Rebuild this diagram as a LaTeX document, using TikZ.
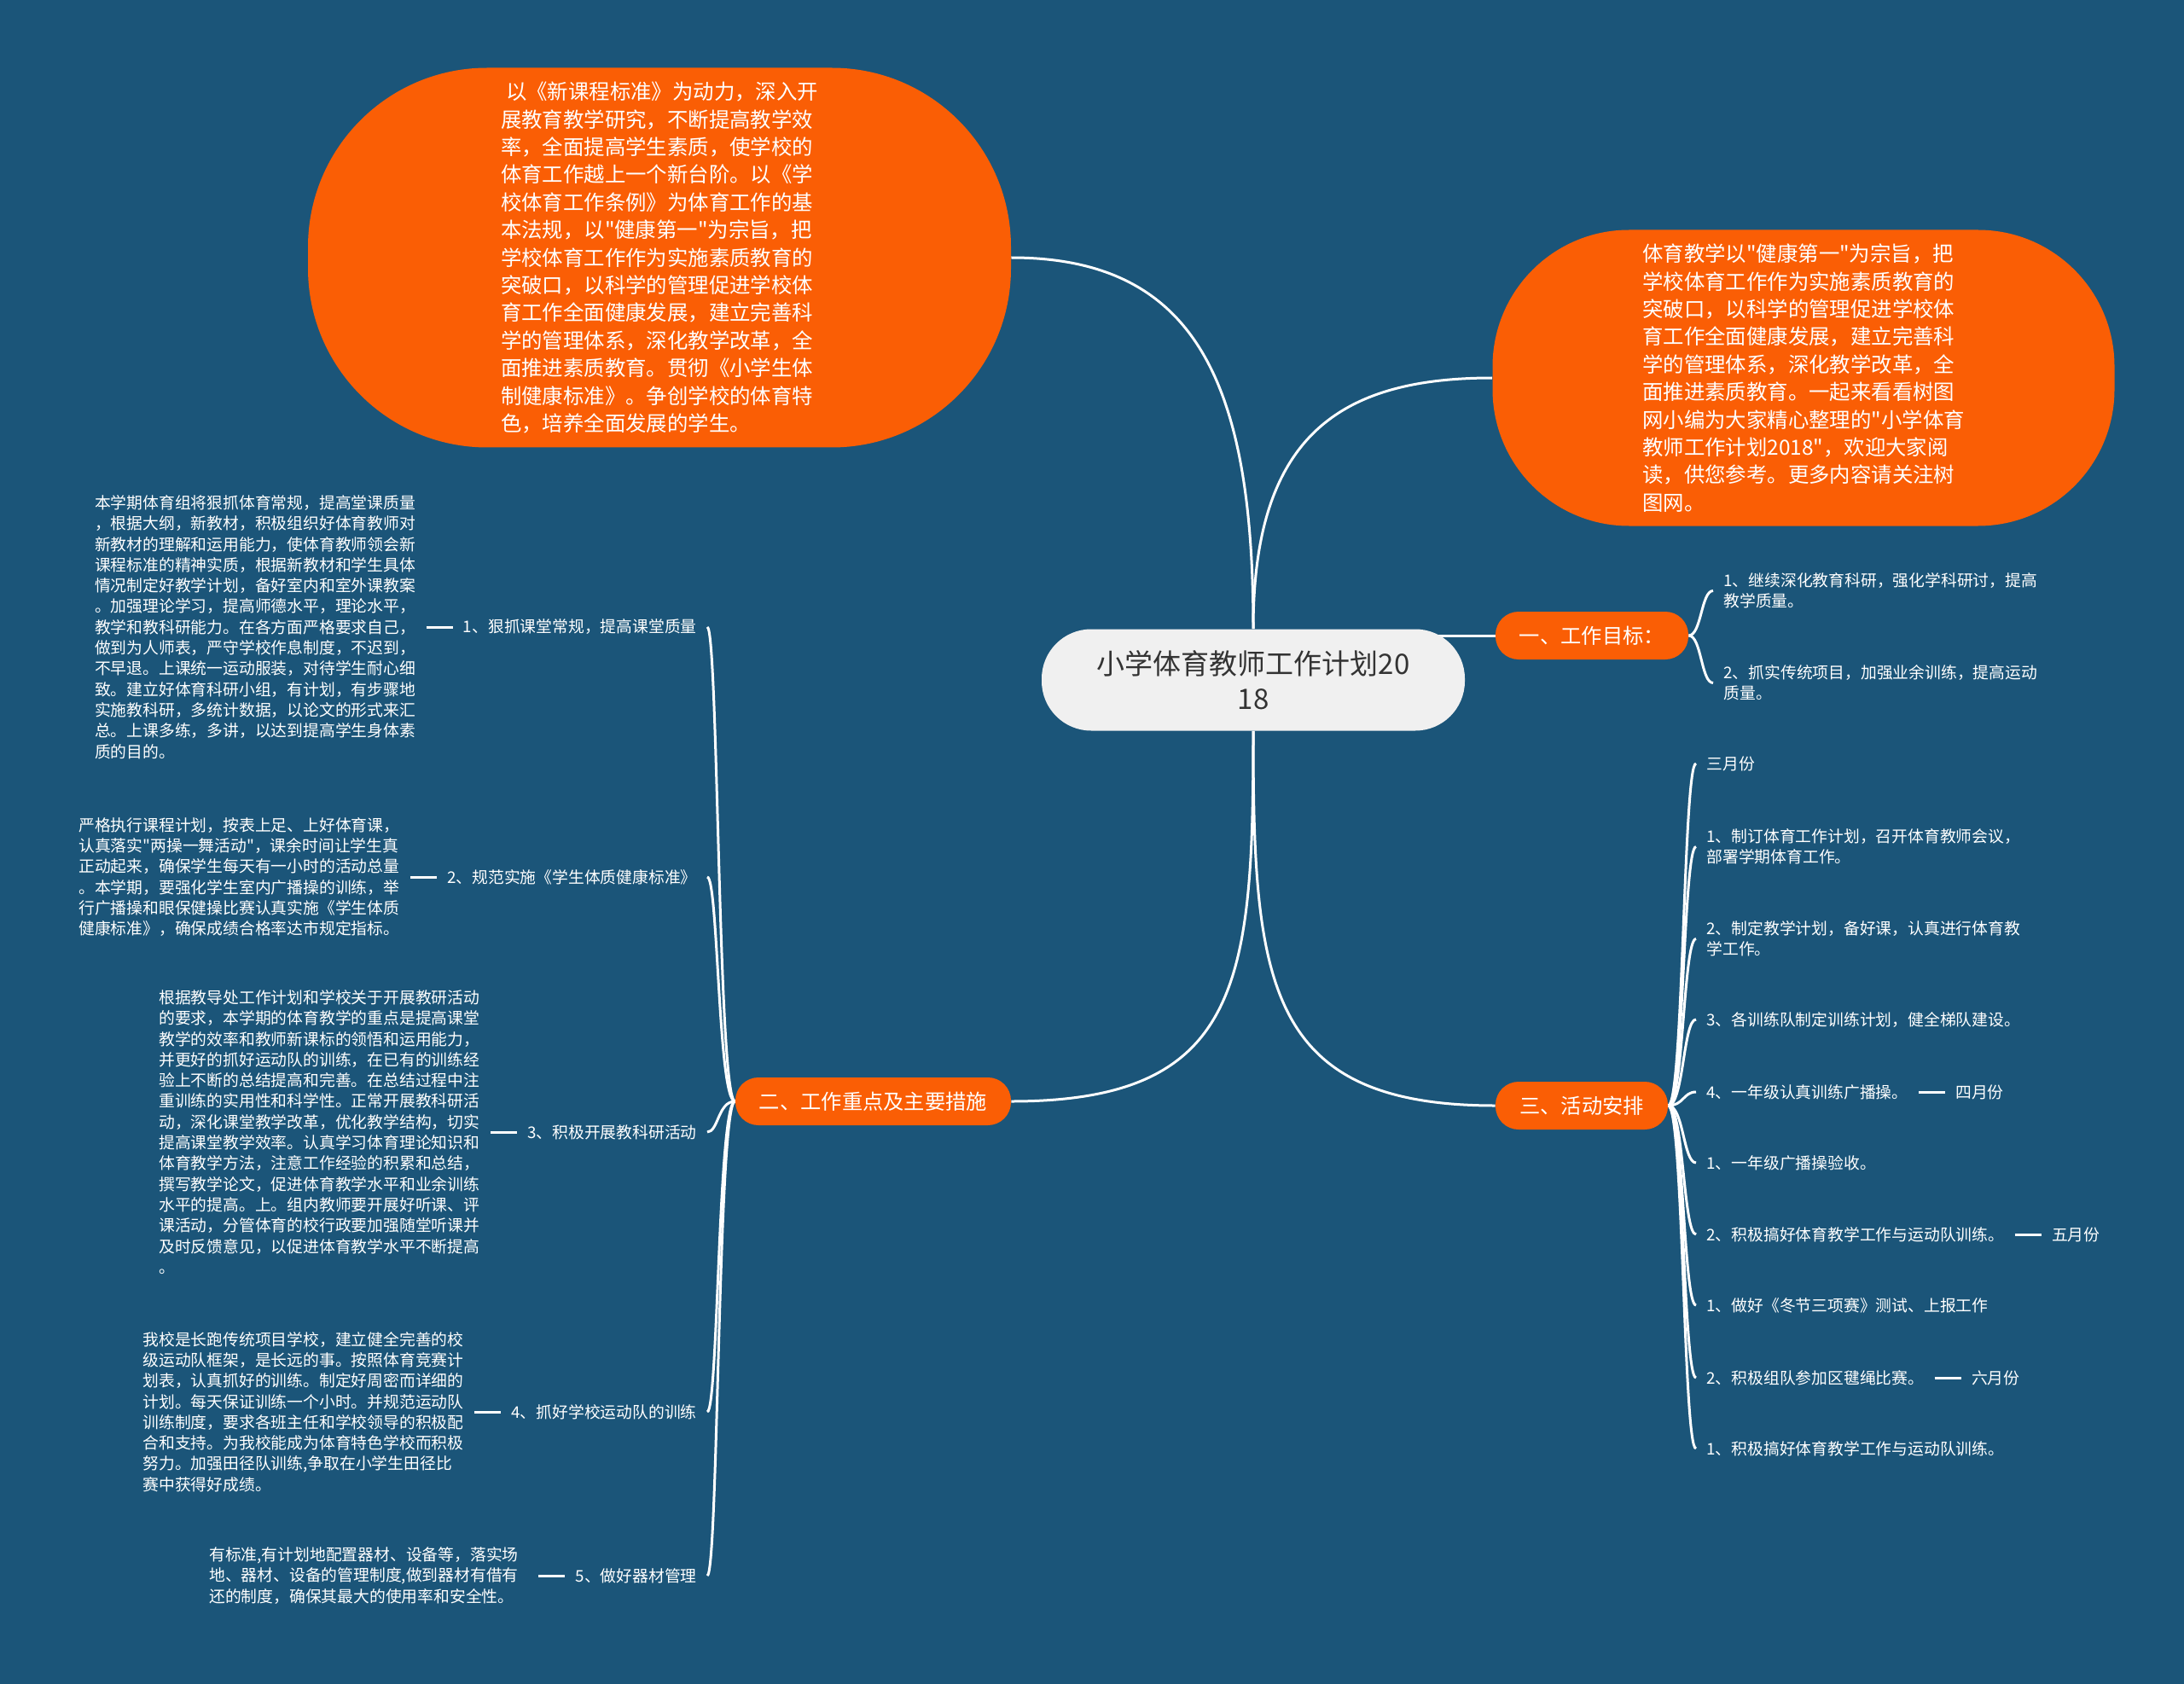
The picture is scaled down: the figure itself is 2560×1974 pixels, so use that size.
\documentclass[tikz,border=0pt]{standalone}
\usepackage{fontspec}
\setmainfont{Noto Sans CJK SC}[Ligatures=TeXOff]
\usetikzlibrary{positioning}
\definecolor{bgblue}{RGB}{27,85,121}
\definecolor{org}{RGB}{250,94,5}
\definecolor{cgray}{RGB}{240,240,240}
\definecolor{ctext}{RGB}{51,51,51}
\pgfdeclarelayer{bgl}
\pgfdeclarelayer{lnk}
\pgfsetlayers{bgl,lnk,main}
\tikzset{
  smalltxt/.style={text=white, font=\fontsize{9.4pt}{12.15pt}\selectfont, align=left, inner xsep=6pt, inner ysep=2pt},
  bigpill/.style={fill=org, text=white, font=\fontsize{12.2pt}{16.2pt}\selectfont, align=left, inner sep=0pt},
  branch/.style={fill=org, rounded corners=13.5pt, text=white, font=\fontsize{12.15pt}{15pt}\selectfont, minimum height=28pt, inner sep=0pt},
  link/.style={draw=white, line width=1.5pt},
}
\begin{document}
\begin{tikzpicture}[x=0.5pt,y=-0.5pt]
\useasboundingbox (0,0) rectangle (2560,1974);
\begin{pgfonlayer}{bgl}
\fill[bgblue] (0,0) rectangle (2560,1974);
\end{pgfonlayer}

% central topic
\node[fill=cgray, text=ctext, rounded corners=29pt, minimum width=248pt, minimum height=59.5pt, inner sep=0pt, align=center, font=\fontsize{16.5pt}{20.5pt}\selectfont] (c) at (1469,797) {小学体育教师工作计划20\\18};

% big orange pills
\node[bigpill, rounded corners=105pt, minimum width=412pt, minimum height=222.5pt] (tl) at (773,302) {\hspace*{3pt}以《新课程标准》为动力，深入开\\展教育教学研究，不断提高教学效\\率，全面提高学生素质，使学校的\\体育工作越上一个新台阶。以《学\\校体育工作条例》为体育工作的基\\本法规，以"健康第一"为宗旨，把\\学校体育工作作为实施素质教育的\\突破口，以科学的管理促进学校体\\育工作全面健康发展，建立完善科\\学的管理体系，深化教学改革，全\\面推进素质教育。贯彻《小学生体\\制健康标准》。争创学校的体育特\\色，培养全面发展的学生。};

\node[bigpill, rounded corners=80pt, minimum width=364.5pt, minimum height=173.5pt] (tr) at (2114,443) {体育教学以"健康第一"为宗旨，把\\学校体育工作作为实施素质教育的\\突破口，以科学的管理促进学校体\\育工作全面健康发展，建立完善科\\学的管理体系，深化教学改革，全\\面推进素质教育。一起来看看树图\\网小编为大家精心整理的"小学体育\\教师工作计划2018"，欢迎大家阅\\读，供您参考。更多内容请关注树\\图网。};

% branch pills
\node[branch, minimum width=113pt] (g1) at (1866,745) {一、工作目标：};
\node[branch, minimum width=161.5pt] (g2) at (1023.5,1291) {二、工作重点及主要措施};
\node[branch, minimum width=101pt] (g3) at (1854,1296) {三、活动安排};

% goals
\node[smalltxt, anchor=west] (a1) at (2008,692.5) {1、继续深化教育科研，强化学科研讨，提高\\教学质量。};
\node[smalltxt, anchor=west] (a2) at (2008,800.5) {2、抓实传统项目，加强业余训练，提高运动\\质量。};

% activities
\node[smalltxt, anchor=west] (b0) at (1988,895) {三月份};
\node[smalltxt, anchor=west] (b1) at (1988,992.5) {1、制订体育工作计划，召开体育教师会议，\\部署学期体育工作。};
\node[smalltxt, anchor=west] (b2) at (1988,1100.5) {2、制定教学计划，备好课，认真进行体育教\\学工作。};
\node[smalltxt, anchor=west] (b3) at (1988,1195) {3、各训练队制定训练计划，健全梯队建设。};
\node[smalltxt, anchor=west] (b4) at (1988,1280) {4、一年级认真训练广播操。};
\node[smalltxt, anchor=west] (b5) at (1988,1363) {1、一年级广播操验收。};
\node[smalltxt, anchor=west] (b6) at (1988,1447) {2、积极搞好体育教学工作与运动队训练。};
\node[smalltxt, anchor=west] (b7) at (1988,1530) {1、做好《冬节三项赛》测试、上报工作};
\node[smalltxt, anchor=west] (b8) at (1988,1615) {2、积极组队参加区毽绳比赛。};
\node[smalltxt, anchor=west] (b9) at (1988,1698) {1、积极搞好体育教学工作与运动队训练。};
\node[smalltxt, right=15.5pt of b4] (m4) {四月份};
\node[smalltxt, right=15.5pt of b6] (m6) {五月份};
\node[smalltxt, right=15.5pt of b8] (m8) {六月份};

% measures
\node[smalltxt, anchor=east] (l1) at (829,735) {1、狠抓课堂常规，提高课堂质量};
\node[smalltxt, anchor=east] (l2) at (829,1028) {2、规范实施《学生体质健康标准》};
\node[smalltxt, anchor=east] (l3) at (829,1327) {3、积极开展教科研活动};
\node[smalltxt, anchor=east] (l4) at (829,1655) {4、抓好学校运动队的训练};
\node[smalltxt, anchor=east] (l5) at (829,1847) {5、做好器材管理};

\node[smalltxt, left=15.5pt of l1] (p1) {本学期体育组将狠抓体育常规，提高堂课质量\\，根据大纲，新教材，积极组织好体育教师对\\新教材的理解和运用能力，使体育教师领会新\\课程标准的精神实质，根据新教材和学生具体\\情况制定好教学计划，备好室内和室外课教案\\。加强理论学习，提高师德水平，理论水平，\\教学和教科研能力。在各方面严格要求自己，\\做到为人师表，严守学校作息制度，不迟到，\\不早退。上课统一运动服装，对待学生耐心细\\致。建立好体育科研小组，有计划，有步骤地\\实施教科研，多统计数据，以论文的形式来汇\\总。上课多练，多讲，以达到提高学生身体素\\质的目的。};
\node[smalltxt, left=15.5pt of l2] (p2) {严格执行课程计划，按表上足、上好体育课，\\认真落实"两操一舞活动"，课余时间让学生真\\正动起来，确保学生每天有一小时的活动总量\\。本学期，要强化学生室内广播操的训练，举\\行广播操和眼保健操比赛认真实施《学生体质\\健康标准》，确保成绩合格率达市规定指标。};
\node[smalltxt, left=15.5pt of l3] (p3) {根据教导处工作计划和学校关于开展教研活动\\的要求，本学期的体育教学的重点是提高课堂\\教学的效率和教师新课标的领悟和运用能力，\\并更好的抓好运动队的训练，在已有的训练经\\验上不断的总结提高和完善。在总结过程中注\\重训练的实用性和科学性。正常开展教科研活\\动，深化课堂教学改革，优化教学结构，切实\\提高课堂教学效率。认真学习体育理论知识和\\体育教学方法，注意工作经验的积累和总结，\\撰写教学论文，促进体育教学水平和业余训练\\水平的提高。上。组内教师要开展好听课、评\\课活动，分管体育的校行政要加强随堂听课并\\及时反馈意见，以促进体育教学水平不断提高\\。};
\node[smalltxt, left=15.5pt of l4] (p4) {我校是长跑传统项目学校，建立健全完善的校\\级运动队框架，是长远的事。按照体育竞赛计\\划表，认真抓好的训练。制定好周密而详细的\\计划。每天保证训练一个小时。并规范运动队\\训练制度，要求各班主任和学校领导的积极配\\合和支持。为我校能成为体育特色学校而积极\\努力。加强田径队训练,争取在小学生田径比\\赛中获得好成绩。};
\node[smalltxt, left=15.5pt of l5] (p5) {有标准,有计划地配置器材、设备等，落实场\hspace*{5.5pt}\\地、器材、设备的管理制度,做到器材有借有\\还的制度，确保其最大的使用率和安全性。};

% connectors
\begin{pgfonlayer}{lnk}
\draw[link] (c.north) .. controls +(0,-290) and +(215,0) .. (tl.east);
\draw[link] (c.north) .. controls +(0,-225) and +(-180,0) .. (tr.west);
\draw[link] (g1.west) -- (g1.west -| c.center);
\draw[link] (c.south) .. controls +(0,294) and +(270,0) .. (g2.east);
\draw[link] (c.south) .. controls +(0,294) and +(-270,0) .. (g3.west);

\foreach \n in {a1,a2}
  \draw[link] (g1.east) .. controls +(15,0) and +(-14,0) .. (\n.west);
\foreach \n in {b0,b1,b2,b3,b4,b5,b6,b7,b8,b9}
  \draw[link] (g3.east) .. controls +(18,0) and +(-15,0) .. (\n.west);
\foreach \n in {l1,l2,l3,l4,l5}
  \draw[link] (g2.west) .. controls +(-20,0) and +(13,0) .. (\n.east);
\draw[link] (b4.east) -- (m4.west);
\draw[link] (b6.east) -- (m6.west);
\draw[link] (b8.east) -- (m8.west);
\draw[link] (p1.east) -- (l1.west);
\draw[link] (p2.east) -- (l2.west);
\draw[link] (p3.east) -- (l3.west);
\draw[link] (p4.east) -- (l4.west);
\draw[link] (p5.east) -- (l5.west);
\end{pgfonlayer}
\end{tikzpicture}
\end{document}
